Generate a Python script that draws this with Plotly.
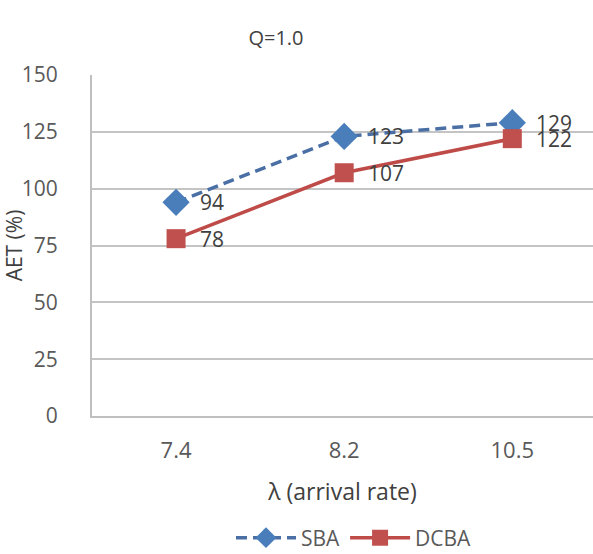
import plotly.graph_objects as go

# Arrival rates (categories) and average execution time per scheme
arrival_rates = ["7.4", "8.2", "10.5"]
sba_values = [94, 123, 129]
dcba_values = [78, 107, 122]

FONT = "Open Sans"
TEXT_GRAY = "#595959"
LABEL_GRAY = "#404040"

fig = go.Figure()

fig.add_trace(go.Scatter(
    x=arrival_rates, y=sba_values, name="SBA",
    mode="lines+markers",
    line=dict(color="#4A6FA5", width=3.5, dash="11px,6px"),
    marker=dict(symbol="diamond", size=21, color="#4A7EBB"),
))

fig.add_trace(go.Scatter(
    x=arrival_rates, y=dcba_values, name="DCBA",
    mode="lines+markers",
    line=dict(color="#BE4B48", width=3.5),
    marker=dict(symbol="square", size=19, color="#C0504D"),
))

# value labels to the right of each point (category index used as x position)
for values in (sba_values, dcba_values):
    for idx, yv in enumerate(values):
        fig.add_annotation(
            x=idx, y=yv, text=str(yv), showarrow=False,
            xanchor="left", yanchor="middle", xshift=22,
            font=dict(family=FONT, size=21, color=LABEL_GRAY),
        )

fig.update_layout(
    width=593, height=554,
    margin=dict(l=92, r=0, t=75, b=138),
    paper_bgcolor="white", plot_bgcolor="white",
    font=dict(family=FONT, size=21, color=TEXT_GRAY),
    title=dict(text="Q=1.0", x=276 / 593, xanchor="center",
               y=1 - 38 / 554, yanchor="middle", yref="container",
               font=dict(family=FONT, size=20, color=LABEL_GRAY)),
    showlegend=True,
    legend=dict(orientation="h", xref="container", yref="container",
                x=354 / 593, xanchor="center", y=1 - 538 / 554, yanchor="middle",
                font=dict(family=FONT, size=21, color=TEXT_GRAY),
                itemwidth=60, tracegroupgap=0),
)

fig.update_xaxes(
    type="category", range=[-0.5, 2.48],
    showgrid=False, showline=True, linecolor="#BFBFBF", linewidth=2,
    ticks="", ticklabelstandoff=14,
    tickfont=dict(family=FONT, size=22, color=TEXT_GRAY),
    title=dict(text="λ (arrival rate)", standoff=20,
               font=dict(family=FONT, size=23, color=LABEL_GRAY)),
)

fig.update_yaxes(
    range=[0, 150], tick0=0, dtick=25,
    showgrid=True, gridcolor="#C4C4C4", gridwidth=1.5,
    showline=True, linecolor="#BFBFBF", linewidth=2,
    zeroline=False, ticks="", ticklabelstandoff=28,
    tickfont=dict(family=FONT, size=21, color=TEXT_GRAY),
    title=dict(text="AET (%)", standoff=0,
               font=dict(family=FONT, size=21, color=LABEL_GRAY)),
)

fig.write_html("out.html")
